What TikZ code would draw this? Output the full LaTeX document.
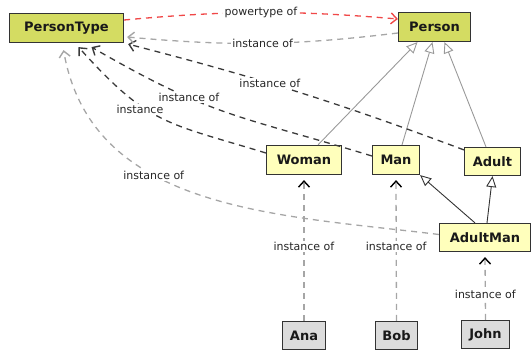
\documentclass[tikz,border=0pt]{standalone}
\usepackage{fontspec}
\setmainfont{DejaVu Sans}
\usetikzlibrary{arrows.meta}
\definecolor{ptfill}{HTML}{D4DC62}
\definecolor{clfill}{HTML}{FFFFBC}
\definecolor{obfill}{HTML}{DCDCDC}
\definecolor{bord}{HTML}{333333}
\definecolor{dgray}{HTML}{A6A6A6}
\definecolor{dblack}{HTML}{3A3A3A}
\definecolor{dred}{HTML}{F04848}
\tikzset{
  x=1pt,y=1pt,
  box/.style={draw=bord,line width=1.2pt,inner sep=0pt,font=\bfseries\fontsize{13}{15}\selectfont,text=black!90},
  metabox/.style={box,fill=ptfill},
  classbox/.style={box,fill=clfill},
  objbox/.style={box,fill=obfill},
  lbl/.style={fill=white,inner sep=1.5pt,font=\fontsize{11}{13}\selectfont,text=black!85},
  barb/.style={-{Straight Barb[length=6pt,width=11pt,line width=1.4pt]}},
  depgray/.style={dgray,line width=1.3pt,dash pattern=on 6pt off 5pt,barb},
  depblack/.style={dblack,line width=1.3pt,dash pattern=on 6pt off 5pt,barb},
  depobj/.style={dgray,line width=1.3pt,dash pattern=on 6pt off 5pt,-{Straight Barb[length=6pt,width=11pt,line width=1.4pt,color=black]}},
  gen/.style={line width=0.9pt,-{Triangle[open,length=11pt,width=10pt,line width=0.9pt,fill=white]}},
}
\begin{document}
\begin{tikzpicture}
\useasboundingbox (0,0) rectangle (532,351);
% nodes
\node[metabox,minimum width=114pt,minimum height=29pt] (PT) at (66.5,323) {PersonType};
\node[metabox,minimum width=72pt,minimum height=29pt] (Person) at (434.5,324) {Person};
\node[classbox,minimum width=75pt,minimum height=29pt] (Woman) at (304,191) {Woman};
\node[classbox,minimum width=47pt,minimum height=29pt] (Man) at (396,191) {Man};
\node[classbox,minimum width=56pt,minimum height=28pt] (Adult) at (492.5,189.5) {Adult};
\node[classbox,minimum width=91pt,minimum height=28pt] (AdultMan) at (485,113.5) {AdultMan};
\node[objbox,minimum width=43pt,minimum height=28pt] (Ana) at (304,15.5) {Ana};
\node[objbox,minimum width=42pt,minimum height=28pt] (Bob) at (396.5,15.5) {Bob};
\node[objbox,minimum width=48pt,minimum height=28pt] (John) at (485.5,16.5) {John};
% generalizations
\draw[gen,gray!80] ([xshift=14pt]Woman.north) -- ([xshift=-17pt]Person.south);
\draw[gen,gray!80] ([xshift=6pt]Man.north) -- ([xshift=-2pt]Person.south);
\draw[gen,gray!80] ([xshift=-6.5pt]Adult.north) -- ([xshift=10pt]Person.south);
\draw[gen,bord] ([xshift=-10pt]AdultMan.north) -- (Man.south east);
\draw[gen,bord] ([xshift=2pt]AdultMan.north) -- (Adult.south);
% instance-of links to PersonType
\draw[depblack] ([yshift=-3pt]Adult.north west) to[bend right=3]
  node[lbl,pos=0.59] {instance of} ([xshift=4pt,yshift=-1pt]PT.south east);
\draw[depblack] ([yshift=7pt]Woman.west) to[out=163,in=-48,looseness=1.25]
  node[lbl,pos=0.64,yshift=-4pt] {instance} ([xshift=12pt,yshift=-4pt]PT.south);
\draw[depblack] ([yshift=4pt]Man.west) to[out=163,in=-30,looseness=1.2]
  node[lbl,pos=0.665] {instance of} ([xshift=25pt,yshift=-4pt]PT.south);
\draw[depgray] ([yshift=3pt]AdultMan.west) to[out=173,in=-80]
  node[lbl,pos=0.62] {instance of} ([xshift=-3pt,yshift=-7pt]PT.south);
\draw[depgray] ([yshift=-6pt]Person.west) to[bend left=6]
  node[lbl,pos=0.5] {instance of} ([xshift=3pt,yshift=-9pt]PT.east);
% powertype
\draw[dred,line width=1.3pt,dash pattern=on 6pt off 5pt,barb] ([yshift=8pt]PT.east) to[bend left=5]
  node[lbl,pos=0.5] {powertype of} ([yshift=8pt]Person.west);
% objects
\draw[depobj] (Ana.north) -- node[lbl,pos=0.53] {instance of} ([yshift=-5pt]Woman.south);
\draw[depobj] (Bob.north) -- node[lbl,pos=0.53] {instance of} ([yshift=-5pt]Man.south);
\draw[depobj] (John.north) -- node[lbl,pos=0.4] {instance of} ([yshift=-5pt]AdultMan.south);
\end{tikzpicture}
\end{document}
